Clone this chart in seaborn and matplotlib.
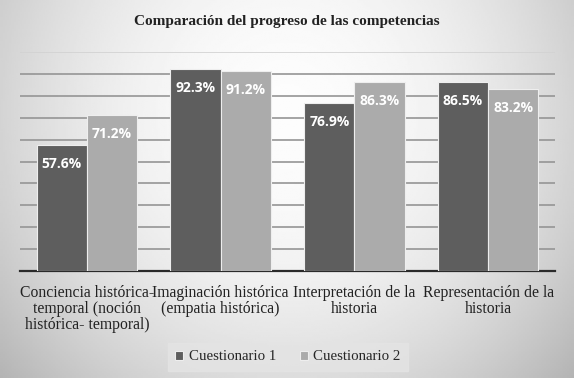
import numpy as np
import pandas as pd
import matplotlib
matplotlib.use("Agg")
import matplotlib.pyplot as plt
import seaborn as sns

categories = [
    "Conciencia histórica-\ntemporal (noción\nhistórica- temporal)",
    "Imaginación histórica\n(empatia histórica)",
    "Interpretación de la\nhistoria",
    "Representación de la\nhistoria",
]
series_names = ["Cuestionario 1", "Cuestionario 2"]
cuestionario_1 = [57.6, 92.3, 76.9, 86.5]
cuestionario_2 = [71.2, 91.2, 86.3, 83.2]
title = "Comparación del progreso de las competencias"

df = pd.DataFrame({
    "cat": categories * 2,
    "serie": [series_names[0]] * 4 + [series_names[1]] * 4,
    "val": cuestionario_1 + cuestionario_2,
})

sns.set_theme(style="white")
plt.rcParams["font.family"] = ["Liberation Serif", "DejaVu Serif"]

fig = plt.figure(figsize=(5.74, 3.78), dpi=100)

# gradient background
bg = fig.add_axes([0, 0, 1, 1], zorder=-10)
yy, xx = np.mgrid[0:1:200j, 0:1:300j]
r2 = ((xx - 0.5) / 0.6) ** 2 + ((yy - 0.3) / 0.95) ** 2
img = np.clip(0.99 - 0.23 * r2, 0, 1)
bg.imshow(img, cmap="gray", vmin=0, vmax=1, aspect="auto", extent=[0, 1, 1, 0])
bg.set_xlim(0, 1)
bg.set_ylim(1, 0)
bg.set_axis_off()

ax = fig.add_axes([20 / 574, 1 - 271 / 378, 535 / 574, 219 / 378])
ax.set_facecolor("none")

sns.barplot(data=df, x="cat", y="val", hue="serie", order=categories,
            hue_order=series_names, palette=["#5e5e5e", "#ababab"],
            width=0.75, ax=ax, edgecolor="#eeeeee", linewidth=0.8,
            saturation=1, zorder=3)

ax.set_ylim(0, 100)
ax.set_yticks(np.arange(10, 101, 10))
ax.yaxis.grid(True, color="#959595", linewidth=1.2, zorder=0)
ax.get_ygridlines()[-1].set_color("#d2d2d2")
ax.set_axisbelow(True)
ax.tick_params(axis="y", left=False, labelleft=False)
ax.tick_params(axis="x", bottom=False, pad=4, labelsize=11.3, colors="#222222")
for lbl in ax.get_xticklabels():
    lbl.set_linespacing(1.02)
for s in ["left", "right", "top"]:
    ax.spines[s].set_visible(False)
ax.spines["bottom"].set_color("#2a2a2a")
ax.spines["bottom"].set_linewidth(1.6)
ax.set_xlabel("")
ax.set_ylabel("")

for cont in ax.containers:
    for bar in cont:
        h = bar.get_height()
        ax.annotate(f"{h:.1f}%", (bar.get_x() + bar.get_width() / 2, h),
                    xytext=(0, -19), textcoords="offset pixels",
                    ha="center", va="center", color="white", fontsize=10,
                    fontweight="bold", family=["Open Sans", "DejaVu Sans"], zorder=5)

handles, labels = ax.get_legend_handles_labels()
ax.legend(handles, labels, loc="center", bbox_to_anchor=(288 / 574, 1 - 357 / 378),
          bbox_transform=fig.transFigure, ncol=2, frameon=True, facecolor="#e4e4e4",
          edgecolor="#e4e4e4", fancybox=False, fontsize=10.75, handlelength=0.55,
          handleheight=0.55, handletextpad=0.35, columnspacing=1.6, borderpad=0.5,
          borderaxespad=0)

fig.text(287 / 574, 1 - 22 / 378, title, ha="center", va="center",
         fontsize=11, fontweight="bold", color="#222222")

fig.savefig("out.png", dpi=100)
